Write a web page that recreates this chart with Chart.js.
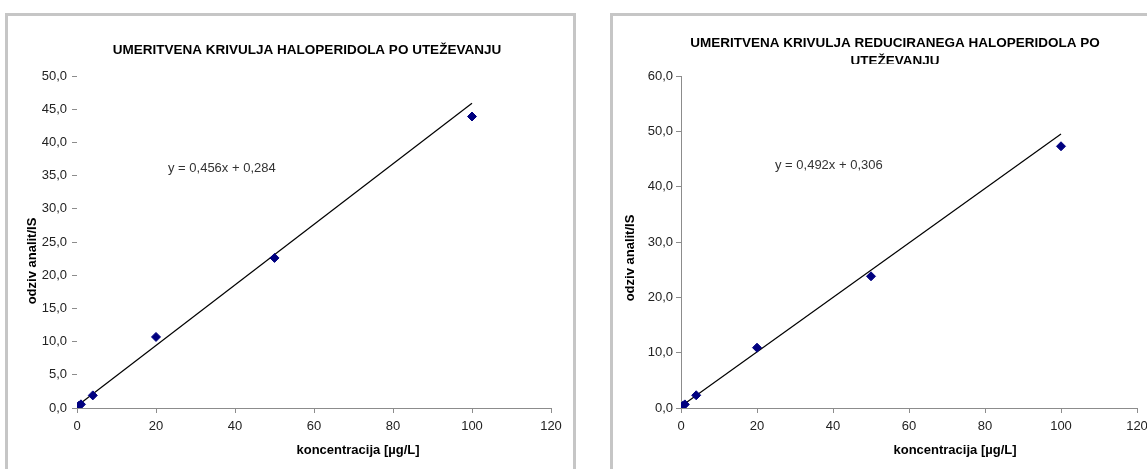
<!DOCTYPE html>
<html>
<head>
<meta charset="utf-8">
<script src="https://cdn.jsdelivr.net/npm/chart.js@4.4.1/dist/chart.umd.min.js"></script>
<style>
  html, body { margin: 0; padding: 0; background: #fff; overflow: hidden; }
  body { width: 1147px; height: 469px; position: relative; }
  .frame { position: absolute; top: 13px; height: 480px; border: 3px solid #c6c6c6; box-sizing: border-box; }
  #frameLeft { left: 5px; width: 571px; }
  #frameRight { left: 610px; width: 560px; }
  canvas { position: absolute; }
  #chartLeft { left: 8px; top: 16px; }
  #chartRight { left: 613px; top: 16px; }
</style>
</head>
<body>
<div class="frame" id="frameLeft"></div>
<div class="frame" id="frameRight"></div>
<canvas id="chartLeft" width="565" height="453"></canvas>
<canvas id="chartRight" width="545" height="453"></canvas>
<script>
// podatki
const koncentracija = [0.5, 1, 4, 20, 50, 100];
const odzivHaloperidol = [0.35, 0.55, 1.9, 10.7, 22.6, 43.9];
const odzivReduciran = [0.4, 0.65, 2.3, 10.9, 23.8, 47.3];
// trendna premica: [naklon, odsek]
const trendHaloperidol = [0.456, 0.284];
const trendReduciran = [0.492, 0.306];
const xTicks = [0, 20, 40, 60, 80, 100, 120];
const yTicksLeft = [0, 5, 10, 15, 20, 25, 30, 35, 40, 45, 50];
const yTicksRight = [0, 10, 20, 30, 40, 50, 60];

const titleLeft = 'UMERITVENA KRIVULJA HALOPERIDOLA PO UTEŽEVANJU';
const titleRight = ['UMERITVENA KRIVULJA REDUCIRANEGA HALOPERIDOLA PO', 'UTEŽEVANJU'];
const xTitle = 'koncentracija [µg/L]';
const yTitle = 'odziv analit/IS';

const FONT = '"Liberation Sans", Arial, sans-serif';
const axisGray = '#8c8c8c';

function fmtComma(v, d) {
  return v.toFixed(d).replace('.', ',');
}

function equation(t) {
  return 'y = ' + fmtComma(t[0], 3) + 'x + ' + fmtComma(t[1], 3);
}

function toPoints(xs, ys) {
  return xs.map((x, i) => ({ x: x, y: ys[i] }));
}

function trendPoints(xs, t) {
  const lo = Math.min(...xs), hi = Math.max(...xs);
  return [{ x: lo, y: t[0] * lo + t[1] }, { x: hi, y: t[0] * hi + t[1] }];
}

// napisi narisani na platno (naslov, osi, enacba)
function textPlugin(items) {
  return {
    id: 'napisi',
    afterDraw(chart) {
      const ctx = chart.ctx;
      items.forEach(t => {
        ctx.save();
        if (t.clipY) {
          ctx.beginPath();
          ctx.rect(0, 0, chart.width, t.clipY);
          ctx.clip();
        }
        ctx.font = t.font;
        ctx.fillStyle = t.color || '#000';
        ctx.textAlign = t.align || 'center';
        ctx.textBaseline = 'middle';
        ctx.translate(t.x, t.y);
        if (t.rotate) ctx.rotate(t.rotate);
        ctx.fillText(t.text, 0, 0);
        ctx.restore();
      });
    }
  };
}

function makeChart(id, cfg) {
  const ctx = document.getElementById(id).getContext('2d');
  return new Chart(ctx, {
    type: 'scatter',
    data: {
      datasets: [{
        data: toPoints(koncentracija, cfg.values),
        pointStyle: 'rectRot',
        pointRadius: 4.5,
        backgroundColor: '#000080',
        borderColor: '#000080',
        borderWidth: 1
      }, {
        data: trendPoints(koncentracija, cfg.trend),
        showLine: true,
        pointRadius: 0,
        borderColor: '#000',
        borderWidth: 1.2
      }]
    },
    options: {
      responsive: false,
      animation: false,
      devicePixelRatio: 1,
      layout: { padding: { top: 60, right: cfg.padRight, left: 0, bottom: 0 } },
      plugins: { legend: { display: false }, tooltip: { enabled: false } },
      scales: {
        x: {
          type: 'linear',
          min: 0, max: 120,
          afterBuildTicks: s => { s.ticks = xTicks.map(v => ({ value: v })); },
          afterFit: s => { s.height = cfg.xHeight; },
          grid: { drawOnChartArea: false, tickLength: 5, color: axisGray },
          border: { display: true, color: axisGray },
          ticks: { color: '#222', font: { family: FONT, size: 13 }, padding: 6, maxRotation: 0 }
        },
        y: {
          min: 0, max: cfg.yTicks[cfg.yTicks.length - 1],
          afterBuildTicks: s => { s.ticks = cfg.yTicks.map(v => ({ value: v })); },
          afterFit: s => { s.width = cfg.yWidth; },
          grid: { drawOnChartArea: false, tickLength: 5, color: axisGray },
          border: { display: cfg.yBorder, color: axisGray },
          ticks: {
            color: '#222', font: { family: FONT, size: 13 }, padding: cfg.yPad,
            callback: v => fmtComma(v, 1)
          }
        }
      }
    },
    plugins: [textPlugin(cfg.texts)]
  });
}

makeChart('chartLeft', {
  values: odzivHaloperidol,
  trend: trendHaloperidol,
  yTicks: yTicksLeft,
  padRight: 22, yWidth: 69, xHeight: 61, yBorder: false, yPad: 5,
  texts: [
    { text: titleLeft, x: 299, y: 34, font: 'bold 13.5px ' + FONT },
    { text: yTitle, x: 24, y: 245, rotate: -Math.PI / 2, font: 'bold 13px ' + FONT },
    { text: xTitle, x: 350, y: 434, font: 'bold 13px ' + FONT },
    { text: equation(trendHaloperidol), x: 160, y: 152, align: 'left', font: '13px ' + FONT, color: '#333' }
  ]
});

makeChart('chartRight', {
  values: odzivReduciran,
  trend: trendReduciran,
  yTicks: yTicksRight,
  padRight: 21, yWidth: 68, xHeight: 61, yBorder: true, yPad: 3,
  texts: [
    { text: titleRight[0], x: 282, y: 27, font: 'bold 13.5px ' + FONT },
    { text: titleRight[1], x: 282, y: 45, font: 'bold 13.5px ' + FONT, clipY: 48 },
    { text: yTitle, x: 17, y: 242, rotate: -Math.PI / 2, font: 'bold 13px ' + FONT },
    { text: xTitle, x: 342, y: 434, font: 'bold 13px ' + FONT },
    { text: equation(trendReduciran), x: 162, y: 149, align: 'left', font: '13px ' + FONT, color: '#333' }
  ]
});
</script>
</body>
</html>
